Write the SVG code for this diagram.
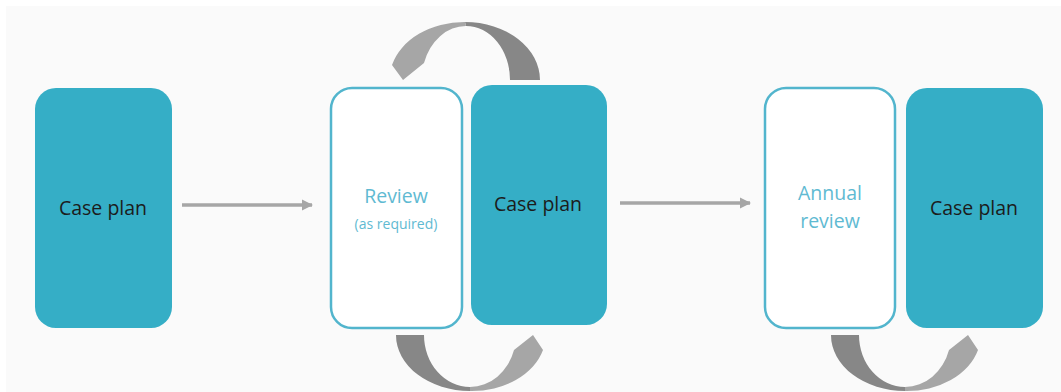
<svg xmlns="http://www.w3.org/2000/svg" width="1061" height="392" viewBox="0 0 1061 392">
  <defs>
    <marker id="head" viewBox="0 0 10 10" refX="9" refY="5" markerWidth="3.2" markerHeight="3.2" orient="auto" markerUnits="strokeWidth">
      <path d="M0,0 L10,5 L0,10 Z" fill="#a6a6a6"/>
    </marker>
  </defs>
  <style>
    .plan { fill: #35aec6; }
    .review { fill: #ffffff; stroke: #52b5cd; stroke-width: 2.5; }
    .label { font-family: "Open Sans", "Liberation Sans", sans-serif; font-size: 19.5px; fill: #1c1c1c; text-anchor: middle; }
    .rlabel { font-family: "Open Sans", "Liberation Sans", sans-serif; font-size: 19.5px; font-weight: 500; fill: #5fbad2; text-anchor: middle; }
    .small { font-size: 14px; }
    .flow { stroke: #a6a6a6; stroke-width: 3.5; fill: none; marker-end: url(#head); }
    .dark { fill: #878787; }
    .light { fill: #a6a6a6; }
  </style>

  <!-- backdrop -->
  <rect x="6" y="6" width="1055" height="386" fill="#fafafa"/>

  <!-- connectors -->
  <g id="connectors">
    <path class="flow" d="M182,205 H312"/>
    <path class="flow" d="M620,203 H750"/>

    <!-- loop over review / case plan -->
    <g id="loop-top">
      <path class="dark" d="M540,80 A75,58 0 0 0 465,22 L466,26 A44,54 0 0 1 510,80 Z"/>
      <path class="light" d="M465,22 A75,58 0 0 0 392,65 L403,80 L424,63 A44,54 0 0 1 466,26 Z"/>
    </g>

    <!-- loop under review / case plan -->
    <g id="loop-bottom-1">
      <path class="dark" d="M396,335 A74,56 0 0 0 470,391 L470,387 A46,52 0 0 1 424,335 Z"/>
      <path class="light" d="M470,391 A74,56 0 0 0 543,350 L533,335 L514,350 A46,52 0 0 1 470,387 Z"/>
    </g>

    <!-- loop under annual review / case plan -->
    <g id="loop-bottom-2" transform="translate(435,0)">
      <path class="dark" d="M396,335 A74,56 0 0 0 470,391 L470,387 A46,52 0 0 1 424,335 Z"/>
      <path class="light" d="M470,391 A74,56 0 0 0 543,350 L533,335 L514,350 A46,52 0 0 1 470,387 Z"/>
    </g>
  </g>

  <!-- nodes -->
  <g id="case-plan-1">
    <rect class="plan" x="35" y="88" width="137" height="240" rx="21"/>
    <text class="label" x="103" y="215">Case plan</text>
  </g>

  <g id="review">
    <rect class="review" x="331" y="88" width="131" height="240" rx="21"/>
    <text class="rlabel" x="396" y="203">Review</text>
    <text class="rlabel small" x="396" y="229">(as required)</text>
  </g>

  <g id="case-plan-2">
    <rect class="plan" x="471" y="85" width="136" height="240" rx="21"/>
    <text class="label" x="538" y="211">Case plan</text>
  </g>

  <g id="annual-review">
    <rect class="review" x="765" y="88" width="130" height="240" rx="21"/>
    <text class="rlabel" x="830" y="200">Annual</text>
    <text class="rlabel" x="830" y="228">review</text>
  </g>

  <g id="case-plan-3">
    <rect class="plan" x="906" y="88" width="137" height="240" rx="21"/>
    <text class="label" x="974" y="215">Case plan</text>
  </g>
</svg>
